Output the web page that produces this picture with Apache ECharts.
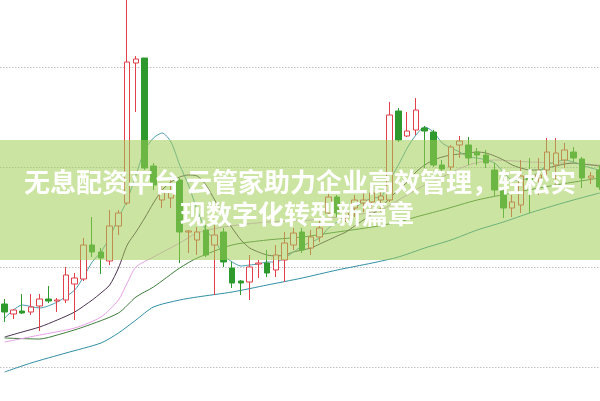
<!DOCTYPE html>
<html><head><meta charset="utf-8">
<script src="https://cdn.jsdelivr.net/npm/echarts@6/dist/echarts.min.js"></script>
<style>html,body{margin:0;padding:0;background:#fff;overflow:hidden;width:600px;height:401px;position:relative}
#c{position:absolute;left:0;top:-33px;width:610px;height:500px}</style>
</head><body><div id="c"></div>
<script>
// candle data: [open, close, low, high]
const candles = [
[6.3,5.5,4.5,6.8],[5.3,5.7,4.8,5.8],[5.6,5.4,5.3,7.3],[5.5,6.0,5.2,7.3],[6.1,6.8,3.6,7.3],
[6.8,6.6,6.4,8.1],[6.6,6.7,5.5,6.9],[6.7,9.2,6.4,10.0],[8.3,8.9,4.7,9.4],[8.8,12.2,8.6,12.9],
[12.2,11.5,11.0,15.0],[11.5,10.9,9.3,11.9],[10.6,14.1,10.2,15.7],[14.1,15.4,13.2,15.7],[16.4,30.5,16.2,36.9],
[30.4,30.8,25.5,31.1],[30.9,19.9,19.7,30.9],[20.1,18.2,17.7,20.4],[16.7,17.5,15.9,18.1],[16.9,17.5,15.9,18.9],
[18.7,13.5,10.4,18.9],[13.5,13.6,11.4,13.7],[12.7,13.5,11.2,14.0],[13.7,11.2,11.0,14.2],[12.2,13.2,7.2,14.2],
[13.5,10.5,10.0,13.9],[9.9,8.4,7.9,10.5],[8.6,8.4,7.2,8.7],[8.5,10.0,6.7,11.2],[10.3,10.4,8.9,10.7],
[10.4,9.4,9.0,11.7],[9.7,11.2,9.0,12.2],[10.7,12.4,8.5,13.5],[12.2,13.4,11.7,13.9],[13.5,11.7,11.4,13.9],
[11.9,13.0,11.2,13.7],[13.0,13.9,12.5,14.7],[15.4,17.0,15.0,17.4],[17.0,15.4,15.0,17.2],[14.9,15.5,14.5,15.7],
[15.9,16.7,15.0,17.2],[16.4,16.7,15.5,17.4],[16.5,17.4,15.9,17.7],[16.7,17.1,15.5,17.5],[16.7,25.2,16.5,26.5],
[25.6,22.7,22.5,25.9],[23.1,23.6,23.0,25.5],[23.7,25.7,23.2,26.9],[23.9,23.6,19.9,24.1],[23.5,20.2,20.0,23.7],
[20.2,19.8,19.5,20.7],[20.0,22.0,19.7,22.2],[22.2,22.6,20.9,23.1],[22.2,20.9,20.2,23.0],[21.5,21.2,20.2,21.9],
[21.2,20.4,19.9,21.7],[19.7,17.7,17.1,20.4],[17.6,15.9,14.9,17.8],[15.9,16.5,15.0,17.2],[16.2,19.1,15.4,20.7],
[19.1,18.7,15.4,20.9],[18.9,19.2,17.2,20.9],[19.7,21.5,18.9,22.9],[20.2,21.4,18.0,22.9],[20.7,21.7,19.9,22.4],
[21.5,20.9,20.5,22.0],[20.8,18.9,17.9,21.0],[18.9,19.1,18.3,19.5],[19.7,18.0,17.7,20.2]
];
const categories = candles.map((_, i) => 'D' + (i + 1));

// moving averages: [categoryIndex, value]
const ma5 = [[0,4.9],[2,6.2],[4,5.9],[6,6.5],[8,7.7],[9,9.0],[10,10.5],[11,11.5],[12,13.0],[13,14.9],[14,16.7],[15,19.2],[16,21.7],[17,22.9],[18,23.4],[19,22.5],[20,20.2],[21,18.2],[22,15.7],[23,13.7],[24,12.7],[25,11.2],[26,10.5],[27,10.1],[28,10.2],[29,10.3],[30,10.5],[31,10.5],[32,10.9],[33,11.5],[34,12.1],[35,12.5],[36,12.9],[37,13.9],[38,14.5],[39,15.2],[40,15.9],[41,16.5],[42,16.9],[43,17.0],[44,18.7],[45,20.2],[46,21.9],[47,23.2],[48,24.0],[49,23.5],[50,22.4],[51,21.9],[52,21.5],[53,21.0],[54,20.9],[55,20.7],[56,20.4],[57,19.5],[58,18.7],[59,18.7],[60,18.9],[61,19.5],[62,20.2],[63,20.5],[64,20.7],[65,20.5],[66,20.2],[67,19.9],[68,19.7]];
const ma10 = [[0,3.0],[2,3.5],[4,4.0],[6,4.7],[8,5.5],[10,6.7],[11,7.4],[12,8.2],[13,9.9],[14,12.2],[15,13.5],[16,14.9],[17,16.4],[18,17.7],[19,18.5],[20,19.0],[21,19.2],[22,19.1],[23,18.2],[24,16.7],[25,15.2],[26,13.9],[27,12.7],[28,11.9],[29,11.5],[30,11.2],[31,11.1],[32,11.2],[33,11.5],[34,11.7],[35,11.9],[36,12.3],[37,12.7],[38,13.1],[39,13.5],[40,14.1],[41,14.7],[42,15.3],[43,15.9],[44,16.9],[45,17.7],[46,18.5],[47,19.5],[48,20.2],[49,20.7],[50,21.0],[51,21.2],[52,21.3],[53,21.4],[54,21.5],[55,21.4],[56,21.1],[57,20.7],[58,20.2],[59,19.9],[60,19.7],[61,19.7],[62,19.9],[63,20.1],[64,20.3],[65,20.4],[66,20.3],[67,20.2],[68,20.1]];
const ma20 = [[0,2.5],[4,3.2],[8,3.9],[11,5.0],[13,6.7],[14,8.4],[15,10.0],[17,11.0],[20,12.4],[22,13.4],[25,14.0],[30,14.5],[35,14.7],[40,15.2],[43,15.7],[45,16.7],[48,18.2],[50,19.0],[53,20.2],[56,20.7],[60,20.5],[64,20.4],[68,20.2]];
const ma30 = [[0,2.9],[4,2.8],[6,3.2],[9,4.0],[13,5.4],[15,7.0],[17,8.0],[20,9.9],[22,10.9],[26,12.2],[30,12.7],[34,13.0],[38,13.5],[42,14.0],[45,14.5],[47,15.0],[50,15.7],[54,16.7],[58,17.4],[63,18.2],[68,18.9]];
const ma60 = [[0,-0.5],[3,0.4],[7,1.4],[11,2.4],[13,3.4],[15,4.7],[17,6.0],[20,6.7],[22,7.0],[26,7.5],[30,8.2],[34,8.9],[38,9.7],[42,10.4],[45,11.0],[48,11.9],[51,12.7],[54,13.7],[57,14.5],[60,15.4],[63,16.2],[65,16.7],[68,17.4]];

const titleLine1 = '无息配资平台 云管家助力企业高效管理，轻松实';
const titleLine2 = '现数字化转型新篇章';

const OFF = 33; // the chart box starts 33px above the page
const chart = echarts.init(document.getElementById('c'), null, {renderer: 'canvas'});
function maSeries(name, data, color) {
  return {name, type: 'line', data, symbol: 'none', smooth: 0.25, connectNulls: true,
    lineStyle: {color, width: 1}, z: 3, silent: true, animation: false};
}
chart.setOption({
  animation: false,
  backgroundColor: '#fff',
  grid: {left: 0.33, right: 5.92, top: 0, bottom: 0, containLabel: false},
  xAxis: {type: 'category', data: categories, boundaryGap: true,
    axisLine: {show: false}, axisTick: {show: false}, axisLabel: {show: false}, splitLine: {show: false}},
  yAxis: {type: 'value', min: -10, max: 40, interval: 10,
    axisLine: {show: false}, axisTick: {show: false}, axisLabel: {show: false},
    splitLine: {show: true, lineStyle: {color: '#a0a0a0', type: [1, 2], width: 1}}},
  series: [
    maSeries('MA60', ma60, '#2f8ea3'),
    maSeries('MA30', ma30, '#3d7d3a'),
    maSeries('MA20', ma20, '#e6a0e6'),
    maSeries('MA10', ma10, '#4a3050'),
    maSeries('MA5', ma5, '#4a9cb0'),
    {type: 'candlestick', data: candles, barWidth: 6, z: 4,
      itemStyle: {color: '#ffffff', color0: '#2e9a2e', borderColor: '#e0404a', borderColor0: '#2e9a2e', borderWidth: 1}}
  ],
  graphic: [
    {type: 'rect', z: 100, silent: true, shape: {x: 0, y: 140 + OFF, width: 610, height: 120},
      style: {fill: 'rgba(160,205,85,0.55)'}},
    {type: 'text', z: 101, silent: true, x: 300, y: 182 + OFF,
      style: {text: titleLine1, fill: '#ffffff', font: 'bold 26px "Noto Sans CJK SC"', align: 'center', verticalAlign: 'middle'}},
    {type: 'text', z: 101, silent: true, x: 297, y: 214 + OFF,
      style: {text: titleLine2, fill: '#ffffff', font: 'bold 26px "Noto Sans CJK SC"', align: 'center', verticalAlign: 'middle'}}
  ]
});
</script></body></html>
